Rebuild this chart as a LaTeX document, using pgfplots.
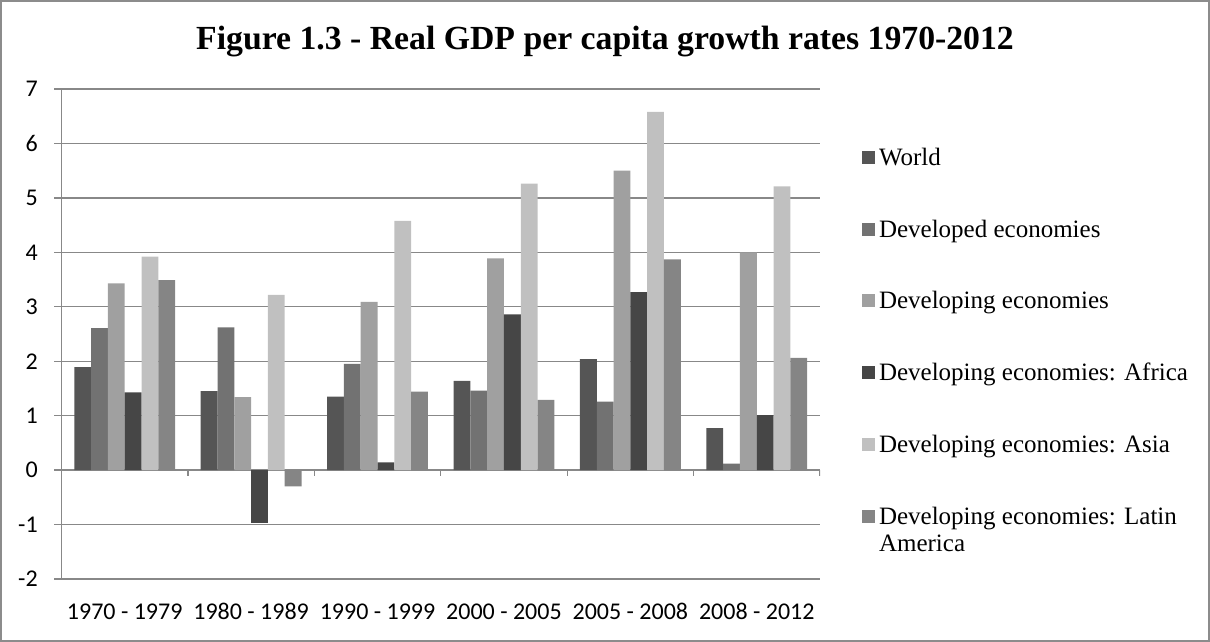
\documentclass[border=0pt]{standalone}
\usepackage{fontspec}
\setmainfont{Liberation Serif}
\newfontfamily\calibri{Carlito}
\usepackage{pgfplots}
\pgfplotsset{compat=1.18}
\definecolor{cWorld}{HTML}{555555}
\definecolor{cDevd}{HTML}{727272}
\definecolor{cDevg}{HTML}{A0A0A0}
\definecolor{cAfr}{HTML}{464646}
\definecolor{cAsia}{HTML}{C0C0C0}
\definecolor{cLat}{HTML}{858585}
\definecolor{gridc}{HTML}{888888}
\definecolor{frameC}{HTML}{8C8C8C}
\pgfplotsset{legsq/.style={legend image code/.code={\fill[##1] (0pt,1.1pt) rectangle (9.75pt,10.85pt);}}}
\begin{document}
\begin{tikzpicture}
\begin{axis}[
  at={(0,0)}, anchor=south west,
  scale only axis,
  width=568.875pt, height=367.5pt,
  xmin=-0.5, xmax=5.5, ymin=-2, ymax=7,
  ybar=0pt, bar width=12.6pt,
  axis lines=left,
  axis line style={-, draw=gridc, line width=1pt},
  xtick={0,...,5},
  xticklabels={1970 - 1979,1980 - 1989,1990 - 1999,2000 - 2005,2005 - 2008,2008 - 2012},
  x tick style={draw=none},
  ytick={-2,...,7},
  ymajorgrids,
  major grid style={gridc, line width=1pt},
  tick align=outside,
  y tick style={gridc, line width=1pt},
  major tick length=5.25pt,
  /pgf/number format/assume math mode=true,
  ticklabel style={font=\calibri\fontsize{18}{20}\selectfont, text=black},
  yticklabel style={inner sep=0pt, xshift=-12.4pt},
  xticklabel style={inner sep=0pt, anchor=north, text height=11.4pt, text depth=0pt, yshift=-13.5pt},
  title={Figure 1.3 - Real GDP per capita growth rates 1970-2012},
  title style={at={(axis description cs:0.7166,1.0633)}, anchor=base, font=\bfseries\fontsize{25.3}{30}\selectfont, inner sep=0pt},
  legend style={at={(axis description cs:1.0554,0.8796)}, anchor=north west, draw=none, fill=none,
    inner sep=0pt, outer sep=0pt, row sep={53.8pt,between origins}, column sep=3pt,
    font=\fontsize{18.75}{22}\selectfont,
    nodes={inner sep=0pt}, cells={anchor=base west}},
]
\addplot[fill=cWorld, draw=none, legsq] coordinates {(0,1.89) (1,1.45) (2,1.35) (3,1.64) (4,2.04) (5,0.77)};
\addlegendentry{World}
\addplot[fill=cDevd, draw=none, legsq] coordinates {(0,2.61) (1,2.62) (2,1.95) (3,1.46) (4,1.26) (5,0.12)};
\addlegendentry{Developed economies}
\addplot[fill=cDevg, draw=none, legsq] coordinates {(0,3.43) (1,1.34) (2,3.09) (3,3.89) (4,5.50) (5,4.00)};
\addlegendentry{Developing economies}
\addplot[fill=cAfr, draw=none, legsq] coordinates {(0,1.43) (1,-0.97) (2,0.14) (3,2.86) (4,3.27) (5,1.01)};
\addlegendentry{Developing economies: Africa}
\addplot[fill=cAsia, draw=none, legsq] coordinates {(0,3.92) (1,3.22) (2,4.58) (3,5.26) (4,6.58) (5,5.21)};
\addlegendentry{Developing economies: Asia}
\addplot[fill=cLat, draw=none, legsq] coordinates {(0,3.49) (1,-0.30) (2,1.44) (3,1.29) (4,3.87) (5,2.06)};
\addlegendentry{\makebox[0pt][l]{\raisebox{-20.8pt}[0pt][0pt]{America}}Developing economies: Latin}
\draw[gridc, line width=1pt] (axis cs:0.5,0) -- ++(0pt,-4.5pt);
\draw[gridc, line width=1pt] (axis cs:1.5,0) -- ++(0pt,-4.5pt);
\draw[gridc, line width=1pt] (axis cs:2.5,0) -- ++(0pt,-4.5pt);
\draw[gridc, line width=1pt] (axis cs:3.5,0) -- ++(0pt,-4.5pt);
\draw[gridc, line width=1pt] (axis cs:4.5,0) -- ++(0pt,-4.5pt);
\draw[gridc, line width=1pt] (axis cs:5.5,0) -- ++(0pt,-4.5pt);
\end{axis}
\draw[frameC, line width=1.5pt] (-45.375pt,-46.5pt) rectangle (860.625pt,433.5pt);
\end{tikzpicture}
\end{document}
